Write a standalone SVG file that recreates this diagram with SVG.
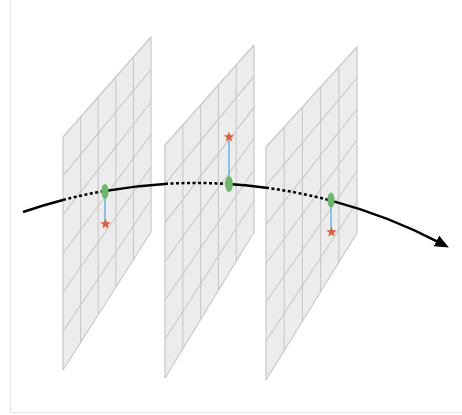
<svg xmlns="http://www.w3.org/2000/svg" width="462" height="415" viewBox="0 0 462 415">
<style>
.plane{fill:#ececec;stroke:#c9c9c9;stroke-width:1.2;stroke-linejoin:round}
.grid{fill:none;stroke:#c9c9c9;stroke-width:1.1}
.frame{fill:none;stroke:#e6e6e6;stroke-width:1}
.solid{fill:none;stroke:#000;stroke-width:2.5}
.dot{fill:none;stroke:#000;stroke-width:2.5;stroke-dasharray:3 2.5}
.rod{stroke:#6cb4e2;stroke-width:1.5}
.pt{fill:#6bb86b}
.star{fill:#e8592c}
</style>
<defs>
<marker id="ah" markerUnits="userSpaceOnUse" markerWidth="16" markerHeight="14" refX="4" refY="6" orient="auto">
<path d="M0,0 L14,6 L0,12 Z" fill="#000"/>
</marker>
<path id="st" d="M0,-5.5 L1.35,-1.86 L5.23,-1.7 L2.19,0.71 L3.23,4.45 L0,2.3 L-3.23,4.45 L-2.19,0.71 L-5.23,-1.7 L-1.35,-1.86 Z"/>
</defs>
<rect width="462" height="415" fill="#fff"/>
<path class="frame" d="M10.5,0 V412.5 H462"/>

<g id="plane1">
<path class="plane" d="M63,137 L151,37 L151,232 L63,370 Z"/>
<path class="grid" d="M80.6,117 L80.6,342.4 M98.2,97 L98.2,314.8 M115.8,77 L115.8,287.2 M133.4,57 L133.4,259.6
M63,175.8 L151,69.5 M63,214.7 L151,102 M63,253.5 L151,134.5 M63,292.3 L151,167 M63,331.2 L151,199.5"/>
</g>
<g id="plane2">
<path class="plane" d="M165,145 L254,45 L254,232 L165,378 Z"/>
<path class="grid" d="M182.8,125 L182.8,348.8 M200.6,105 L200.6,319.6 M218.4,85 L218.4,290.4 M236.2,65 L236.2,261.2
M165,183.8 L254,76.2 M165,222.7 L254,107.3 M165,261.5 L254,138.5 M165,300.3 L254,169.7 M165,339.2 L254,200.8"/>
</g>
<g id="plane3">
<path class="plane" d="M266,147 L357,47 L357,233 L266,380 Z"/>
<path class="grid" d="M284.2,127 L284.2,350.6 M302.4,107 L302.4,321.2 M320.6,87 L320.6,291.8 M338.8,67 L338.8,262.4
M266,185.8 L357,78 M266,224.7 L357,109 M266,263.5 L357,140 M266,302.3 L357,171 M266,341.2 L357,202"/>
</g>

<g id="connectors">
<path class="solid" d="M23,212 A528.6,528.6 0 0 1 63,199.95"/>
<path class="dot" d="M63,199.95 A528.6,528.6 0 0 1 105,190.9"/>
<path class="solid" d="M105,190.9 A528.6,528.6 0 0 1 165,183.9"/>
<path class="dot" d="M165,183.9 A528.6,528.6 0 0 1 229,184.04"/>
<path class="solid" d="M229,184.04 A528.6,528.6 0 0 1 266,187.7"/>
<path class="dot" d="M266,187.7 A528.6,528.6 0 0 1 331,200.6"/>
<path class="solid" d="M331,200.6 A528.6,528.6 0 0 1 440,242.8" marker-end="url(#ah)"/>
</g>

<g id="point1">
<line class="rod" x1="105" y1="191" x2="105" y2="224"/>
<use href="#st" class="star" x="105.5" y="224"/>
<ellipse class="pt" cx="105" cy="191.5" rx="3.6" ry="7.5"/>
</g>
<g id="point2">
<line class="rod" x1="229" y1="184" x2="229" y2="137.5"/>
<use href="#st" class="star" x="229" y="137"/>
<ellipse class="pt" cx="229" cy="184" rx="3.8" ry="8"/>
</g>
<g id="point3">
<line class="rod" x1="331" y1="200" x2="331" y2="232"/>
<use href="#st" class="star" x="331.5" y="232"/>
<ellipse class="pt" cx="331" cy="200" rx="3.6" ry="7.5"/>
</g>
</svg>
